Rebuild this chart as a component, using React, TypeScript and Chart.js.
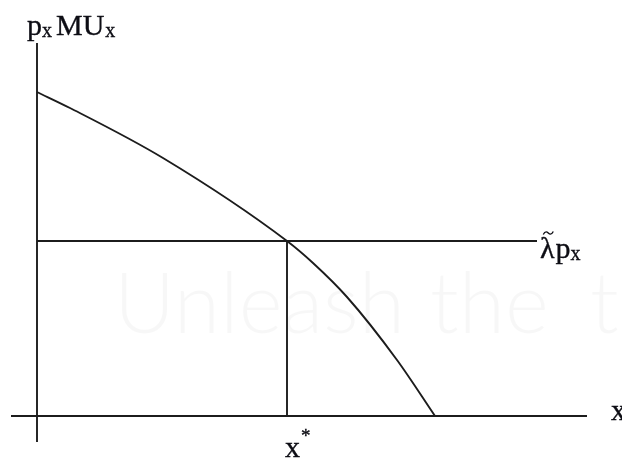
import React, { useEffect, useRef } from "react";
import { Chart, registerables } from "chart.js";

Chart.register(...registerables);

// Marginal-utility-per-price curve (quantity x, p_x·MU_x)
const curveX = [0, 0.66, 2.52, 5, 5.52, 6.2, 7.2, 7.96];
const curveY = [6.48, 6.16, 5.16, 3.5, 3.06, 2.38, 1.12, 0];

// Equilibrium: λ̃·p_x level and the optimal quantity x*
const lambdaP = 3.5;
const xStar = 5;
const lambdaLineEnd = 10;

// Axis extents
const xAxisRange = [-0.52, 11];
const yAxisRange = [-0.52, 7.46];

const INK = "#1c1c1c";
const TEXT = "#0d0d14";
const SERIF = "'Liberation Serif', 'Times New Roman', serif";

const labelsPlugin = {
  id: "econLabels",
  afterDatasetsDraw(chart: any) {
    const { ctx, scales } = chart;
    const px = (v: number) => scales.x.getPixelForValue(v);
    const py = (v: number) => scales.y.getPixelForValue(v);
    ctx.save();
    ctx.fillStyle = TEXT;
    ctx.strokeStyle = TEXT;
    ctx.textAlign = "left";
    ctx.textBaseline = "alphabetic";

    // draws serif text with a hairline outline for weight, returns advance width
    const put = (t: string, x: number, y: number, size: number) => {
      ctx.font = `${size}px ${SERIF}`;
      ctx.lineWidth = 0.35;
      ctx.fillText(t, x, y);
      ctx.strokeText(t, x, y);
      return ctx.measureText(t).width;
    };

    // y-axis title: p_x MU_x
    const ox = px(0);
    const top = py(yAxisRange[1]);
    let cx = ox - 10;
    cx += put("p", cx, top - 8, 30);
    cx += put("x", cx, top - 6, 20);
    cx += 4;
    cx += put("MU", cx, top - 8, 30);
    put("x", cx + 1, top - 6, 20);

    // λ̃ p_x label at the end of the horizontal line
    const ly = py(lambdaP) + 17;
    let lx = px(lambdaLineEnd) + 3;
    const lw = put("λ", lx, ly, 30);
    // tilde accent over λ
    const tx = lx + lw / 2 + 1;
    const ty = ly - 25;
    ctx.lineWidth = 1.4;
    ctx.beginPath();
    ctx.moveTo(tx - 5, ty + 1.5);
    ctx.bezierCurveTo(tx - 3, ty - 2.5, tx - 1, ty - 1, tx, ty);
    ctx.bezierCurveTo(tx + 1, ty + 1, tx + 3, ty + 2.5, tx + 5, ty - 1.5);
    ctx.stroke();
    lx += lw + 1;
    lx += put("p", lx, ly, 30);
    put("x", lx, ly + 2, 20);

    // x* below the axis
    const sx = px(xStar) - 2;
    const sw = put("x", sx, py(0) + 41, 30);
    put("*", sx + sw + 1, py(0) + 26, 19);

    // x at the right end of the horizontal axis
    put("x", px(xAxisRange[1]) + 24, py(0) + 4, 30);

    ctx.restore();
  },
};

const watermarkPlugin = {
  id: "watermark",
  beforeDatasetsDraw(chart: any) {
    const { ctx } = chart;
    ctx.save();
    ctx.fillStyle = "rgba(0,0,0,0.03)";
    ctx.font = `300 84px Lato, 'Open Sans', sans-serif`;
    ctx.textBaseline = "alphabetic";
    ctx.textAlign = "right";
    ctx.fillText("Unleash", 405, 333);
    ctx.textAlign = "left";
    ctx.fillText("the", 430, 333);
    ctx.fillText("t", 590, 333);
    ctx.restore();
  },
};

export default function App() {
  const ref = useRef<HTMLCanvasElement | null>(null);

  useEffect(() => {
    if (!ref.current) return;
    const seg = (xs: number[], ys: number[]) => xs.map((x, i) => ({ x, y: ys[i] }));
    const line = (data: any[], extra: any = {}) => ({
      data,
      borderColor: INK,
      borderWidth: 1.9,
      pointRadius: 0,
      fill: false,
      tension: 0,
      ...extra,
    });

    const chart = new Chart(ref.current, {
      type: "line",
      data: {
        datasets: [
          line(seg(xAxisRange, [0, 0])),
          line(seg([0, 0], yAxisRange)),
          line(seg([0, lambdaLineEnd], [lambdaP, lambdaP])),
          line(seg([xStar, xStar], [0, lambdaP])),
          line(seg(curveX, curveY), { cubicInterpolationMode: "monotone" }),
        ],
      },
      options: {
        animation: false,
        responsive: false,
        layout: { padding: 0 },
        plugins: {
          legend: { display: false },
          tooltip: { enabled: false },
        },
        scales: {
          x: { type: "linear", display: false, min: -0.74, max: 11.7 },
          y: { type: "linear", display: false, min: -0.86, max: 8.32 },
        },
      },
      plugins: [watermarkPlugin, labelsPlugin],
    });
    return () => chart.destroy();
  }, []);

  return (
    <div style={{ position: "fixed", left: 0, top: 0, width: 622, height: 459, background: "#fff" }}>
      <canvas ref={ref} width={622} height={459} />
    </div>
  );
}
